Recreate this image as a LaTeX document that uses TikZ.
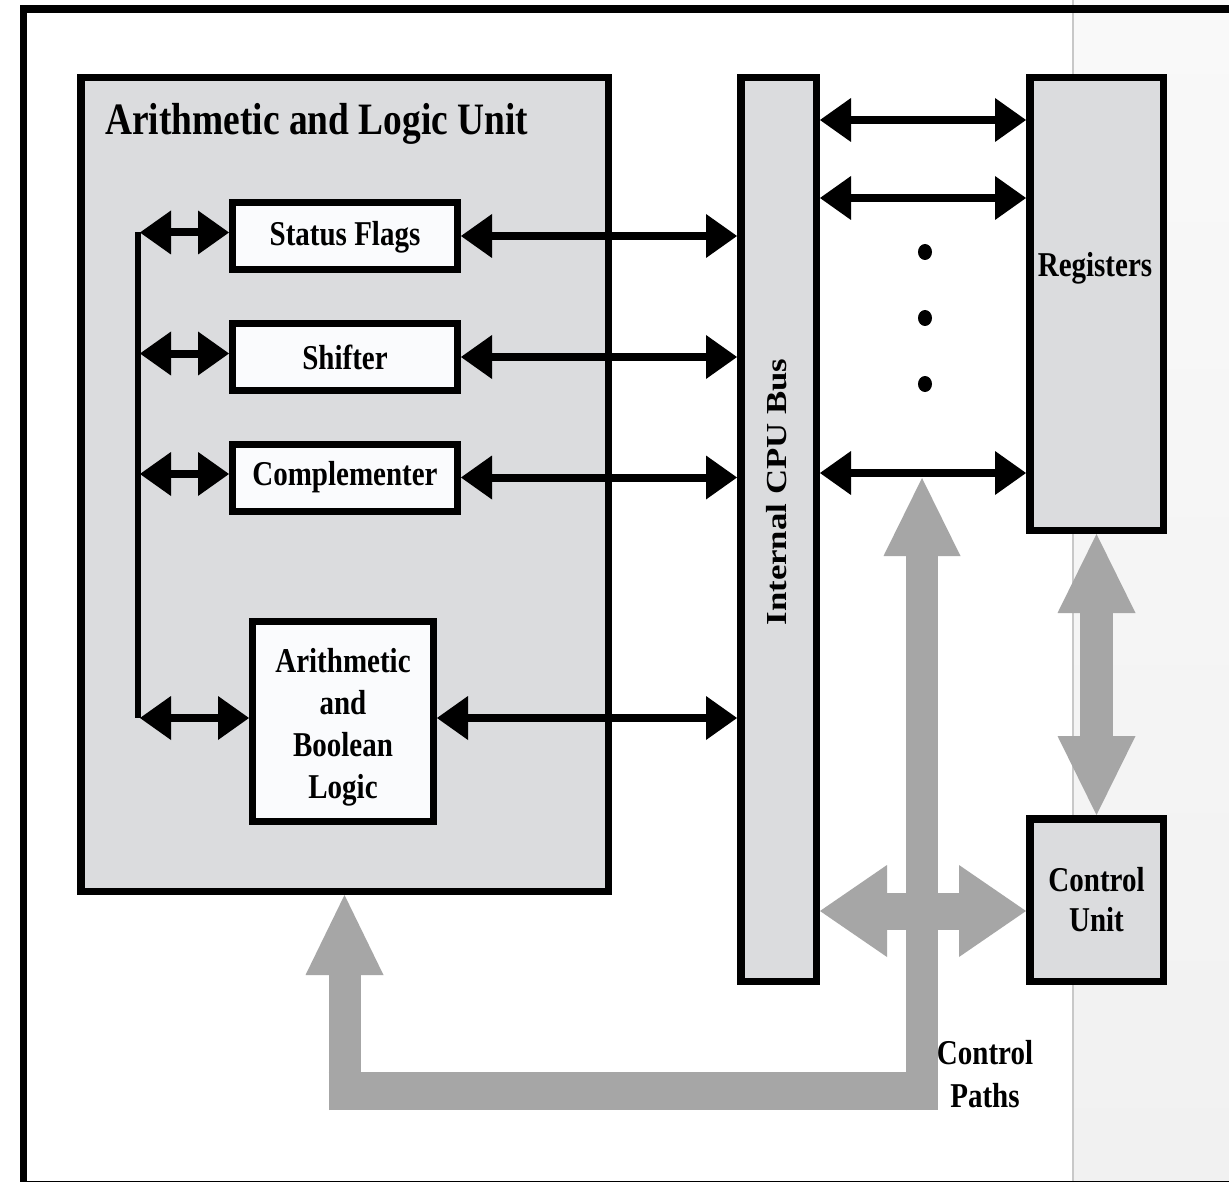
\documentclass[tikz,border=0pt]{standalone}
\usepackage{fontspec}
\setmainfont{Liberation Serif}
\usepackage{graphicx}
\usetikzlibrary{arrows.meta}

\definecolor{unitfill}{RGB}{219,220,222}
\definecolor{partfill}{RGB}{250,251,253}
\definecolor{pathgray}{RGB}{166,166,166}
\definecolor{sidetop}{RGB}{249,249,249}
\definecolor{sidebot}{RGB}{241,241,241}
\definecolor{edgegray}{RGB}{200,200,200}
\definecolor{baseline}{RGB}{128,128,128}

% glyphs are set slightly taller (or, when turned, longer) than the font draws them
\newcommand\tall[1]{\scalebox{1}[1.2]{#1}}
\newcommand\wide[1]{\scalebox{1.2}[1]{#1}}

\tikzset{
  lbl/.style={font=\fontsize{29}{42}\selectfont\bfseries, align=center, inner sep=0pt},
  unitbox/.style={draw=black, line width=7.5pt, fill=unitfill, inner sep=0pt},
  partbox/.style={draw=black, line width=7pt, fill=partfill, inner sep=0pt},
  dataarrow/.style={line width=8pt, >={Triangle[length=31pt,width=44pt,line width=0pt]}, <->},
  ctrlbar/.style={draw=pathgray, line width=#1},
}

\begin{document}
\begin{tikzpicture}[x=1pt,y=-1pt]
\useasboundingbox (0,0) rectangle (1229,1182);
\fill[white] (0,0) rectangle (1229,1182);

% page edge on the right and at the bottom
\shade[top color=sidetop, bottom color=sidebot] (1073,0) rectangle (1229,1182);
\draw[edgegray, line width=1.5pt] (1073,0) -- (1073,1182);
\draw[baseline, line width=1.5pt] (27,1181.25) -- (1229,1181.25);

% outer frame
\draw[line width=7.5pt, line join=miter] (23.5,1190) -- (23.5,9) -- (1240,9);

% arithmetic and logic unit
\node[unitbox, minimum width=527.5pt, minimum height=813.5pt] (alu) at (344.5,484.5) {};
\node[lbl, font=\fontsize{37.4}{45}\selectfont\bfseries, anchor=base west] (title) at (105,135) {\tall{Arithmetic and Logic Unit}};

\node[partbox, lbl, minimum width=225pt, minimum height=67pt, text height=27pt] (sf) at (345,236) {\tall{Status Flags}};
\node[partbox, lbl, minimum width=225pt, minimum height=67pt] (sh) at (345,357) {\tall{Shifter}};
\node[partbox, lbl, minimum width=225pt, minimum height=67pt] (cm) at (345,477.5) {\tall{Complementer}};
\node[partbox, lbl, minimum width=181pt, minimum height=200pt] (abl) at (343,721.5)
  {\rule{0pt}{36pt}\tall{Arithmetic}\\\tall{and}\\\tall{Boolean}\\\tall{Logic}};

% internal bus, registers, control unit
\node[unitbox, minimum width=75.5pt, minimum height=903.5pt] (bus) at (778.5,529.5) {};
\node[lbl, rotate=90] (bustext) at (777,492) {\wide{Internal CPU Bus}};

\node[unitbox, minimum width=133.5pt, minimum height=452.5pt] (reg) at (1096.5,304) {};
\node[lbl] (regtext) at (1095,268) {\tall{Registers}};

\node[unitbox, lbl, font=\fontsize{29}{40}\selectfont\bfseries, minimum width=133.5pt, minimum height=162.5pt] (cu) at (1096.5,900) {\tall{Control}\\\tall{Unit}};

% internal data paths of the unit
\coordinate (spine) at (140,0);
\coordinate (spineaxis) at (138,0);
\draw[line width=6.5pt] ([yshift=3.5pt]sf.west -| spineaxis) -- ([yshift=3.5pt]abl.west -| spineaxis);
\foreach \p in {sf,sh,cm,abl}
  \draw[dataarrow] ([yshift=3.5pt]\p.west -| spine) -- ([yshift=3.5pt]\p.west);

% unit to bus
\draw[dataarrow] (sf.east) -- (sf.east -| bus.west);
\draw[dataarrow] (sh.east) -- (sh.east -| bus.west);
\draw[dataarrow] (cm.east) -- (cm.east -| bus.west);
\draw[dataarrow] ([yshift=3.5pt]abl.east) -- ([yshift=3.5pt]abl.east -| bus.west);

% bus to registers
\foreach \r in {120,198,473}
  \draw[dataarrow] (bus.east |- 0,\r) -- (reg.west |- 0,\r);
\foreach \d in {252,318,384}
  \fill (925,\d) ellipse [x radius=7pt, y radius=8pt];

% control paths
\coordinate (junction) at (922,911);
\coordinate (shaftfoot) at (922,1110);
\coordinate (shafttop) at (922,478);
\draw[ctrlbar=38pt] (328.5,1091) -- (938,1091);
\draw[ctrlbar=32pt, >={Triangle[length=80pt,width=78pt,line width=0pt]}, ->] (alu.south |- shaftfoot) -- (alu.south);
\draw[ctrlbar=32pt, >={Triangle[length=78pt,width=77pt,line width=0pt]}, ->] (shaftfoot) -- (shafttop);
\draw[ctrlbar=37pt, >={Triangle[length=67pt,width=92pt,line width=0pt]}, <->] (junction -| bus.east) -- (junction -| cu.west);
\draw[ctrlbar=33pt, >={Triangle[length=79pt,width=78pt,line width=0pt]}, <->] (reg.south) -- (cu.north);

\node[lbl, font=\fontsize{29}{43}\selectfont\bfseries] (cptext) at (985,1074.5) {\tall{Control}\\\tall{Paths}};
\end{tikzpicture}
\end{document}
